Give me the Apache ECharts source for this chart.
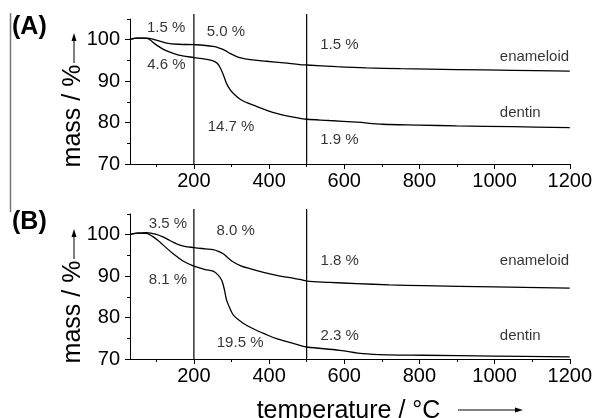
<!DOCTYPE html>
<html>
<head>
<meta charset="utf-8">
<script src="https://cdn.jsdelivr.net/npm/echarts@6.0.0/dist/echarts.min.js"></script>
<style>
  html, body { margin: 0; padding: 0; background: #fff; }
  #chart { width: 595px; height: 418px; }
</style>
</head>
<body>
<div id="chart"></div>
<script>
/* TGA curves, two panels: (A) and (B), enameloid vs dentin */

// axis ticks
const majorX = [200, 400, 600, 800, 1000, 1200];
const minorX = [100, 300, 500, 700, 900, 1100];
const majorY = [70, 80, 90, 100];
const minorY = [75, 85, 95, 105];

// vertical dividers (temperature) and their vertical span (mass %)
const dividerTemps = [200, 500];
const dividerSpan = [70, 106.2];

// panel A – enameloid
const tempA_enam = [30, 50, 74, 100, 127, 160, 200, 251, 270, 285, 296, 310, 322, 350, 393, 440, 482, 500, 580, 659, 750, 899, 1050, 1200];
const massA_enam = [100.1, 100.4, 100.4, 99.9, 99.2, 98.9, 98.8, 98.4, 97.9, 97.3, 96.7, 96.1, 95.7, 95.2, 94.8, 94.4, 94.0, 93.9, 93.5, 93.2, 93.0, 92.8, 92.6, 92.4];
// panel A – dentin
const tempA_dent = [30, 50, 74, 101, 120, 145, 170, 200, 230, 251, 262, 269, 278, 287, 296, 305, 325, 358, 420, 482, 500, 560, 633, 703, 800, 899, 1050, 1200];
const massA_dent = [100.1, 100.4, 100.3, 98.7, 97.6, 96.7, 96.1, 95.7, 95.3, 94.9, 94.3, 93.4, 91.6, 89.4, 88.0, 87.0, 85.5, 84.2, 82.2, 81.0, 80.8, 80.5, 80.1, 79.6, 79.4, 79.2, 79.0, 78.8];

// panel B – enameloid
const tempB_enam = [30, 50, 74, 100, 119, 136, 154, 175, 200, 230, 251, 265, 278, 291, 305, 325, 349, 385, 420, 482, 500, 560, 633, 720, 810, 1000, 1200];
const massB_enam = [100.1, 100.4, 100.5, 100.1, 99.4, 98.6, 97.8, 97.2, 96.9, 96.6, 96.4, 96.0, 95.4, 94.4, 93.4, 92.5, 91.8, 90.9, 90.2, 89.2, 88.8, 88.5, 88.2, 87.9, 87.7, 87.4, 87.1];
// panel B – dentin
const tempB_dent = [30, 50, 74, 90, 110, 128, 145, 170, 200, 230, 251, 264, 274, 281, 287, 296, 305, 330, 358, 390, 420, 482, 500, 588, 650, 720, 810, 1000, 1200];
const massB_dent = [100.1, 100.4, 100.3, 99.6, 98.2, 96.7, 95.4, 93.7, 92.4, 91.6, 91.2, 90.3, 89.0, 86.8, 84.2, 82.2, 80.6, 78.7, 77.3, 76.0, 74.9, 73.3, 72.9, 72.1, 71.3, 71.0, 70.9, 70.7, 70.5];

// step annotations: [temperature, mass, text]
const stepsA = [[126, 102.8, '1.5 %'], [285, 101.8, '5.0 %'], [127, 93.9, '4.6 %'], [299, 78.9, '14.7 %'], [587, 98.7, '1.5 %'], [587, 75.8, '1.9 %']];
const stepsB = [[131, 102.7, '3.5 %'], [311, 101.0, '8.0 %'], [131, 89.0, '8.1 %'], [323, 73.8, '19.5 %'], [588, 93.8, '1.8 %'], [588, 75.7, '2.3 %']];
// curve names: [temperature (left edge), mass, text]
const namesA = [[1014, 95.8, 'enameloid'], [1014, 82.3, 'dentin']];
const namesB = [[1014, 93.8, 'enameloid'], [1014, 75.7, 'dentin']];

const FONT = "'Liberation Sans', Arial, sans-serif";
const INK = '#000';

const pair = (xs, ys) => xs.map((x, i) => [x, ys[i]]);
const plain = v => String(v);

function xAxes(g) {
  return [
    {
      type: 'value', gridIndex: g, min: 30, max: 1200, position: 'bottom',
      axisLine: { lineStyle: { color: INK, width: 1 } },
      axisTick: { customValues: majorX, length: 5, lineStyle: { color: INK } },
      axisLabel: { customValues: majorX, formatter: plain, fontSize: 20, color: INK, margin: 7, fontFamily: FONT },
      splitLine: { show: false }
    },
    {
      type: 'value', gridIndex: g, min: 30, max: 1200, position: 'bottom',
      axisLine: { show: false },
      axisTick: { customValues: minorX, length: 3, lineStyle: { color: INK } },
      axisLabel: { show: false },
      splitLine: { show: false }
    }
  ];
}

function yAxes(g) {
  return [
    {
      type: 'value', gridIndex: g, min: 70, max: 105, position: 'left',
      axisLine: { show: true, lineStyle: { color: INK, width: 1 } },
      axisTick: { show: true, customValues: majorY, length: 5, lineStyle: { color: INK } },
      axisLabel: { customValues: majorY, formatter: plain, fontSize: 20, color: INK, margin: 10, fontFamily: FONT },
      splitLine: { show: false }
    },
    {
      type: 'value', gridIndex: g, min: 70, max: 105, position: 'left',
      axisLine: { show: false },
      axisTick: { show: true, customValues: minorY, length: 3, lineStyle: { color: INK } },
      axisLabel: { show: false },
      splitLine: { show: false }
    }
  ];
}

function curve(ax, xs, ys) {
  return {
    type: 'line', xAxisIndex: ax, yAxisIndex: ax, data: pair(xs, ys),
    symbol: 'none', smooth: 0.35, silent: true,
    lineStyle: { color: INK, width: 1.3 }
  };
}

function dividers(ax) {
  return dividerTemps.map(t => ({
    type: 'line', xAxisIndex: ax, yAxisIndex: ax, clip: false,
    data: dividerSpan.map(v => [t, v]), symbol: 'none', silent: true,
    lineStyle: { color: INK, width: 1.2 }
  }));
}

function notes(ax, list, pos) {
  return {
    type: 'scatter', xAxisIndex: ax, yAxisIndex: ax, symbolSize: 0, silent: true,
    data: list.map(a => ({ value: [a[0], a[1]], name: a[2] })),
    label: {
      show: true, position: pos, distance: 0, formatter: '{b}',
      fontSize: 15, color: '#000', fontFamily: FONT
    }
  };
}

function arrowUp(x, y0, y1) {
  return [
    { type: 'line', shape: { x1: x, y1: y0, x2: x, y2: y1 + 6 }, style: { stroke: INK, lineWidth: 1 } },
    { type: 'polygon', shape: { points: [[x, y1], [x - 2.5, y1 + 8], [x + 2.5, y1 + 8]] }, style: { fill: INK } }
  ];
}

const chart = echarts.init(document.getElementById('chart'), null, { renderer: 'canvas' });

chart.setOption({
  animation: false,
  backgroundColor: '#fff',
  textStyle: { fontFamily: FONT },
  grid: [
    { left: 130, top: 19, width: 440, height: 145 },
    { left: 130, top: 214, width: 440, height: 145 }
  ],
  xAxis: [...xAxes(0), ...xAxes(1)],
  yAxis: [...yAxes(0), ...yAxes(1)],
  series: [
    curve(0, tempA_enam, massA_enam),
    curve(0, tempA_dent, massA_dent),
    curve(2, tempB_enam, massB_enam),
    curve(2, tempB_dent, massB_dent),
    ...dividers(0),
    ...dividers(2),
    notes(0, stepsA, 'inside'),
    notes(0, namesA, 'right'),
    notes(2, stepsB, 'inside'),
    notes(2, namesB, 'right')
  ],
  graphic: [
    { type: 'line', shape: { x1: 10.5, y1: 13, x2: 10.5, y2: 212 }, style: { stroke: '#777', lineWidth: 1.5 } },
    { type: 'text', x: 12, y: 27, style: { text: '(A)', font: 'bold 25px ' + FONT, fill: INK, verticalAlign: 'middle' } },
    { type: 'text', x: 12, y: 222.5, style: { text: '(B)', font: 'bold 25px ' + FONT, fill: INK, verticalAlign: 'middle' } },
    { type: 'text', x: 73, y: 116, rotation: Math.PI / 2, style: { text: 'mass / %', font: '25px ' + FONT, fill: INK, align: 'center', verticalAlign: 'middle' } },
    { type: 'text', x: 73, y: 312, rotation: Math.PI / 2, style: { text: 'mass / %', font: '25px ' + FONT, fill: INK, align: 'center', verticalAlign: 'middle' } },
    ...arrowUp(74, 63, 33),
    ...arrowUp(74, 259, 229),
    { type: 'text', x: 348.5, y: 411, style: { text: 'temperature / °C', font: '25px ' + FONT, fill: INK, align: 'center', verticalAlign: 'middle' } },
    { type: 'line', shape: { x1: 458, y1: 410, x2: 517, y2: 410 }, style: { stroke: INK, lineWidth: 1 } },
    { type: 'polygon', shape: { points: [[523, 410], [515, 407.5], [515, 412.5]] }, style: { fill: INK } }
  ]
});
</script>
</body>
</html>
